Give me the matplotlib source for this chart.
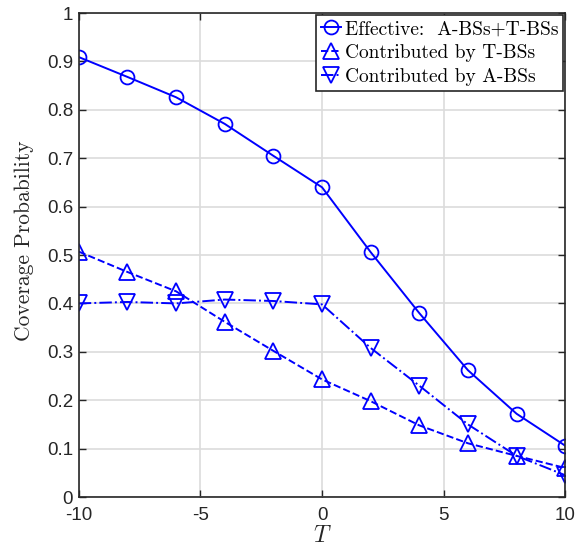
import numpy as np
import matplotlib
matplotlib.use('Agg')
import matplotlib.pyplot as plt

T = [-10, -8, -6, -4, -2, 0, 2, 4, 6, 8, 10]
effective = [0.909, 0.868, 0.826, 0.771, 0.705, 0.640, 0.506, 0.380, 0.262, 0.172, 0.106]
t_bss = [0.507, 0.465, 0.425, 0.362, 0.302, 0.243, 0.198, 0.148, 0.111, 0.085, 0.060]
a_bss = [0.400, 0.403, 0.400, 0.408, 0.405, 0.398, 0.308, 0.230, 0.150, 0.085, 0.045]
labels = ['Effective:  A-BSs+T-BSs', 'Contributed by T-BSs', 'Contributed by A-BSs']

plt.rcParams['font.family'] = ['Liberation Sans', 'DejaVu Sans']
plt.rcParams['mathtext.fontset'] = 'cm'

fig = plt.figure(figsize=(5.75, 5.55), dpi=100)
ax = fig.add_axes([0.137, 0.1045, 0.846, 0.872])

ax.plot(T, effective, '-', color='b', marker='o', mfc='none', ms=10, mew=1.3, lw=1.4, label=labels[0])
ax.plot(T, t_bss, '--', color='b', marker='^', mfc='none', ms=11, mew=1.3, lw=1.4, label=labels[1])
ax.plot(T, a_bss, '-.', color='b', marker='v', mfc='none', ms=11, mew=1.3, lw=1.4, label=labels[2])

ax.set_xlim(-10, 10)
ax.set_ylim(0, 1)
ax.set_xticks(np.arange(-10, 11, 5))
ax.set_yticks(np.arange(0, 1.01, 0.1))
ax.set_xticklabels(['-10', '-5', '0', '5', '10'])
ax.set_yticklabels(['0', '0.1', '0.2', '0.3', '0.4', '0.5', '0.6', '0.7', '0.8', '0.9', '1'])
ax.tick_params(direction='in', length=5, width=1, labelsize=13.5, colors='#262626',
               top=True, right=True)
ax.tick_params(axis='x', pad=7)
ax.tick_params(axis='y', pad=4)
ax.grid(True, color='#dcdcdc', lw=1.2)
ax.set_axisbelow(True)
for s in ax.spines.values():
    s.set_color('#262626')
    s.set_linewidth(1.2)

ax.set_xlabel('$T$', fontsize=17, color='#262626', labelpad=1)
ax.set_ylabel('Coverage Probability', family='cmr10', fontsize=15.5, color='#262626')
ax.yaxis.set_label_coords(-0.093, 0.53)

leg = ax.legend(loc='upper right', prop={'family': 'cmr10', 'size': 14}, handlelength=1.0,
                handletextpad=0.2, borderpad=0.25, labelspacing=0.3, borderaxespad=0.12,
                fancybox=False, framealpha=1)
leg.get_frame().set_edgecolor('#262626')
leg.get_frame().set_linewidth(1.2)

fig.savefig('out.png', dpi=100)
